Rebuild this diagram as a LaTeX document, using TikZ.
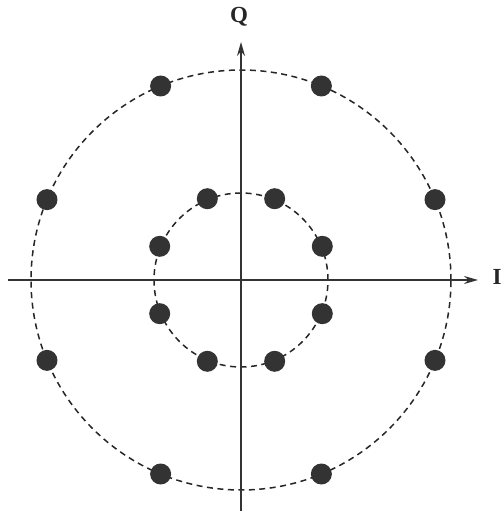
\documentclass[tikz,border=0pt]{standalone}
\usepackage{fontspec}
\newfontfamily\labelfont{Liberation Serif}
\usetikzlibrary{arrows.meta}
\begin{document}
\begin{tikzpicture}[x=1pt, y=1pt,
    axis/.style={line width=1.4pt, draw=black!80, -{Stealth[length=14pt,width=8pt]}},
    ring/.style={draw=black!85, line width=1.5pt, dash pattern=on 6pt off 4.5pt},
    symbol/.style={circle, fill=black!80, inner sep=0pt, minimum size=21pt},
    axislabel/.style={font=\labelfont\fontsize{23}{26}\selectfont\bfseries, text=black!85}
]
\useasboundingbox (-241,-231) rectangle (260,280);

% Rings of the constellation
\draw[ring] (0,0) circle (87);
\draw[ring] (0,0) circle (210);

% Axes
\coordinate (west) at (-233,0);
\coordinate (east) at (237,0);
\coordinate (south) at (0,-231);
\coordinate (north) at (0,238);
\draw[axis] (west) -- (east);
\draw[axis] (south) -- (north);
\node[axislabel] (ilabel) at (256,3) {I};
\node[axislabel] (qlabel) at (-2,263) {Q};

% Symbols - 8 on each ring
\foreach \k in {0,...,7} {
  \node[symbol] (in\k) at ({22.5+45*\k}:88) {};
  \node[symbol] (out\k) at ({22.5+45*\k}:210) {};
}

\end{tikzpicture}
\end{document}
